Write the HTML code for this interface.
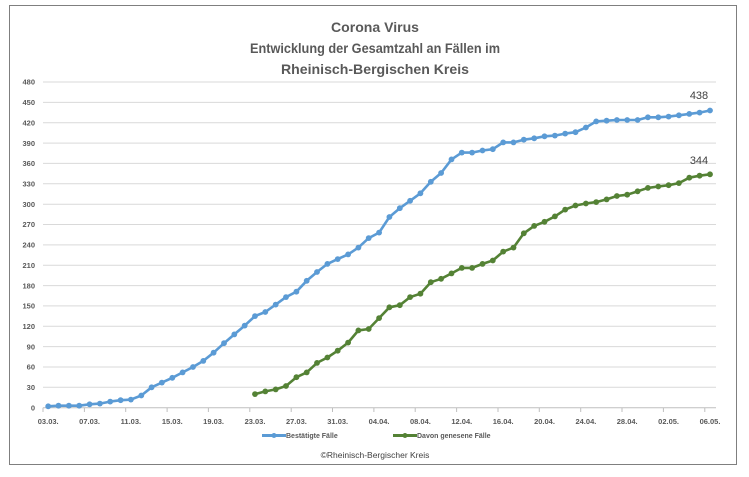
<!DOCTYPE html>
<html><head><meta charset="utf-8"><style>
body{margin:0;background:#fff;}
svg{display:block;font-family:"Liberation Sans",sans-serif;}
</style></head><body>
<svg width="749" height="477" viewBox="0 0 749 477" xmlns="http://www.w3.org/2000/svg">
<defs>
<marker id="mb" markerUnits="userSpaceOnUse" markerWidth="8" markerHeight="8" refX="4" refY="4" viewBox="0 0 8 8"><circle cx="4" cy="4" r="2.9" fill="#5b9bd5"/></marker>
<marker id="mg" markerUnits="userSpaceOnUse" markerWidth="8" markerHeight="8" refX="4" refY="4" viewBox="0 0 8 8"><circle cx="4" cy="4" r="2.9" fill="#548235"/></marker>
</defs>
<rect x="0" y="0" width="749" height="477" fill="#fff"/>
<rect x="9.5" y="5.5" width="727" height="459" fill="#fff" stroke="#7f7f7f" stroke-width="1"/>
<g font-weight="bold" fill="#595959" font-size="14" text-anchor="middle">
<text x="375" y="32" textLength="88" lengthAdjust="spacingAndGlyphs">Corona Virus</text>
<text x="375" y="53" textLength="250" lengthAdjust="spacingAndGlyphs">Entwicklung der Gesamtzahl an Fällen im</text>
<text x="375" y="74" textLength="188" lengthAdjust="spacingAndGlyphs">Rheinisch-Bergischen Kreis</text>
</g>
<g stroke="#d9d9d9" stroke-width="1">
<line x1="43" x2="716" y1="387.3" y2="387.3"/><line x1="43" x2="716" y1="367" y2="367"/><line x1="43" x2="716" y1="346.6" y2="346.6"/><line x1="43" x2="716" y1="326.3" y2="326.3"/><line x1="43" x2="716" y1="305.9" y2="305.9"/><line x1="43" x2="716" y1="285.6" y2="285.6"/><line x1="43" x2="716" y1="265.2" y2="265.2"/><line x1="43" x2="716" y1="244.9" y2="244.9"/><line x1="43" x2="716" y1="224.5" y2="224.5"/><line x1="43" x2="716" y1="204.2" y2="204.2"/><line x1="43" x2="716" y1="183.8" y2="183.8"/><line x1="43" x2="716" y1="163.4" y2="163.4"/><line x1="43" x2="716" y1="143.1" y2="143.1"/><line x1="43" x2="716" y1="122.7" y2="122.7"/><line x1="43" x2="716" y1="102.4" y2="102.4"/><line x1="43" x2="716" y1="82" y2="82"/>
</g>
<g stroke="#bfbfbf" stroke-width="1">
<line x1="43" x2="716" y1="407.7" y2="407.7"/>
<line x1="43" x2="43" y1="407.7" y2="412"/><line x1="84.4" x2="84.4" y1="407.7" y2="412"/><line x1="125.7" x2="125.7" y1="407.7" y2="412"/><line x1="167.1" x2="167.1" y1="407.7" y2="412"/><line x1="208.4" x2="208.4" y1="407.7" y2="412"/><line x1="249.8" x2="249.8" y1="407.7" y2="412"/><line x1="291.2" x2="291.2" y1="407.7" y2="412"/><line x1="332.5" x2="332.5" y1="407.7" y2="412"/><line x1="373.9" x2="373.9" y1="407.7" y2="412"/><line x1="415.2" x2="415.2" y1="407.7" y2="412"/><line x1="456.6" x2="456.6" y1="407.7" y2="412"/><line x1="498" x2="498" y1="407.7" y2="412"/><line x1="539.3" x2="539.3" y1="407.7" y2="412"/><line x1="580.7" x2="580.7" y1="407.7" y2="412"/><line x1="622" x2="622" y1="407.7" y2="412"/><line x1="663.4" x2="663.4" y1="407.7" y2="412"/><line x1="704.8" x2="704.8" y1="407.7" y2="412"/>
</g>
<g font-size="7.5" font-weight="bold" fill="#595959" text-anchor="end">
<text x="35" y="410.4">0</text><text x="35" y="390">30</text><text x="35" y="369.7">60</text><text x="35" y="349.3">90</text><text x="35" y="329">120</text><text x="35" y="308.6">150</text><text x="35" y="288.3">180</text><text x="35" y="267.9">210</text><text x="35" y="247.6">240</text><text x="35" y="227.2">270</text><text x="35" y="206.9">300</text><text x="35" y="186.5">330</text><text x="35" y="166.1">360</text><text x="35" y="145.8">390</text><text x="35" y="125.4">420</text><text x="35" y="105.1">450</text><text x="35" y="84.7">480</text>
</g>
<g font-size="7.5" font-weight="bold" fill="#595959" text-anchor="middle">
<text x="48.2" y="424">03.03.</text><text x="89.6" y="424">07.03.</text><text x="130.9" y="424">11.03.</text><text x="172.3" y="424">15.03.</text><text x="213.6" y="424">19.03.</text><text x="255" y="424">23.03.</text><text x="296.4" y="424">27.03.</text><text x="337.7" y="424">31.03.</text><text x="379.1" y="424">04.04.</text><text x="420.4" y="424">08.04.</text><text x="461.8" y="424">12.04.</text><text x="503.2" y="424">16.04.</text><text x="544.5" y="424">20.04.</text><text x="585.9" y="424">24.04.</text><text x="627.2" y="424">28.04.</text><text x="668.6" y="424">02.05.</text><text x="710" y="424">06.05.</text>
</g>
<polyline fill="none" stroke="#5b9bd5" stroke-width="2.6" stroke-linejoin="round" marker-start="url(#mb)" marker-mid="url(#mb)" marker-end="url(#mb)" points="48.2,406.3 58.5,405.7 68.9,405.7 79.2,405.7 89.6,404.3 99.9,403.6 110.2,401.6 120.6,400.2 130.9,399.6 141.3,395.5 151.6,387.3 161.9,382.6 172.3,377.8 182.6,372.4 193,367 203.3,360.9 213.6,352.7 224,343.2 234.3,334.4 244.7,325.6 255,316.1 265.3,312 275.7,304.6 286,297.1 296.4,291.7 306.7,280.8 317,272 327.4,263.9 337.7,259.1 348.1,254.4 358.4,247.6 368.7,238.1 379.1,232.6 389.4,217 399.8,208.2 410.1,200.8 420.4,193.3 430.8,181.8 441.1,173 451.5,159.4 461.8,152.6 472.1,152.6 482.5,150.5 492.8,149.2 503.2,142.4 513.5,142.4 523.8,139.7 534.2,138.3 544.5,136.3 554.9,135.6 565.2,133.6 575.5,132.2 585.9,127.5 596.2,121.4 606.6,120.7 616.9,120 627.2,120 637.6,120 647.9,117.3 658.3,117.3 668.6,116.6 678.9,115.3 689.3,113.9 699.6,112.6 710,110.5"/>
<polyline fill="none" stroke="#548235" stroke-width="2.6" stroke-linejoin="round" marker-start="url(#mg)" marker-mid="url(#mg)" marker-end="url(#mg)" points="255,394.1 265.3,391.4 275.7,389.4 286,386 296.4,377.2 306.7,372.4 317,362.9 327.4,357.5 337.7,350.7 348.1,342.6 358.4,330.4 368.7,329 379.1,318.1 389.4,307.3 399.8,305.2 410.1,297.1 420.4,293.7 430.8,282.2 441.1,278.8 451.5,273.4 461.8,267.9 472.1,267.9 482.5,263.9 492.8,260.5 503.2,251.6 513.5,247.6 523.8,233.3 534.2,225.9 544.5,221.8 554.9,216.4 565.2,209.6 575.5,205.5 585.9,203.5 596.2,202.1 606.6,199.4 616.9,196 627.2,194.7 637.6,191.3 647.9,187.9 658.3,186.5 668.6,185.2 678.9,183.1 689.3,177.7 699.6,175.7 710,174.3"/>
<text x="699" y="99" font-size="11" fill="#404040" text-anchor="middle">438</text>
<text x="699" y="164" font-size="11" fill="#404040" text-anchor="middle">344</text>
<g font-size="7" font-weight="bold" fill="#595959">
<line x1="262" y1="435.5" x2="286" y2="435.5" stroke="#5b9bd5" stroke-width="3"/>
<circle cx="274" cy="435.5" r="2.5" fill="#5b9bd5"/>
<text x="286" y="438">Bestätigte Fälle</text>
<line x1="393" y1="435.5" x2="417" y2="435.5" stroke="#548235" stroke-width="3"/>
<circle cx="405" cy="435.5" r="2.5" fill="#548235"/>
<text x="417" y="438">Davon genesene Fälle</text>
</g>
<text x="375" y="458" font-size="8.5" fill="#404040" text-anchor="middle">©Rheinisch-Bergischer Kreis</text>
</svg>
</body></html>
